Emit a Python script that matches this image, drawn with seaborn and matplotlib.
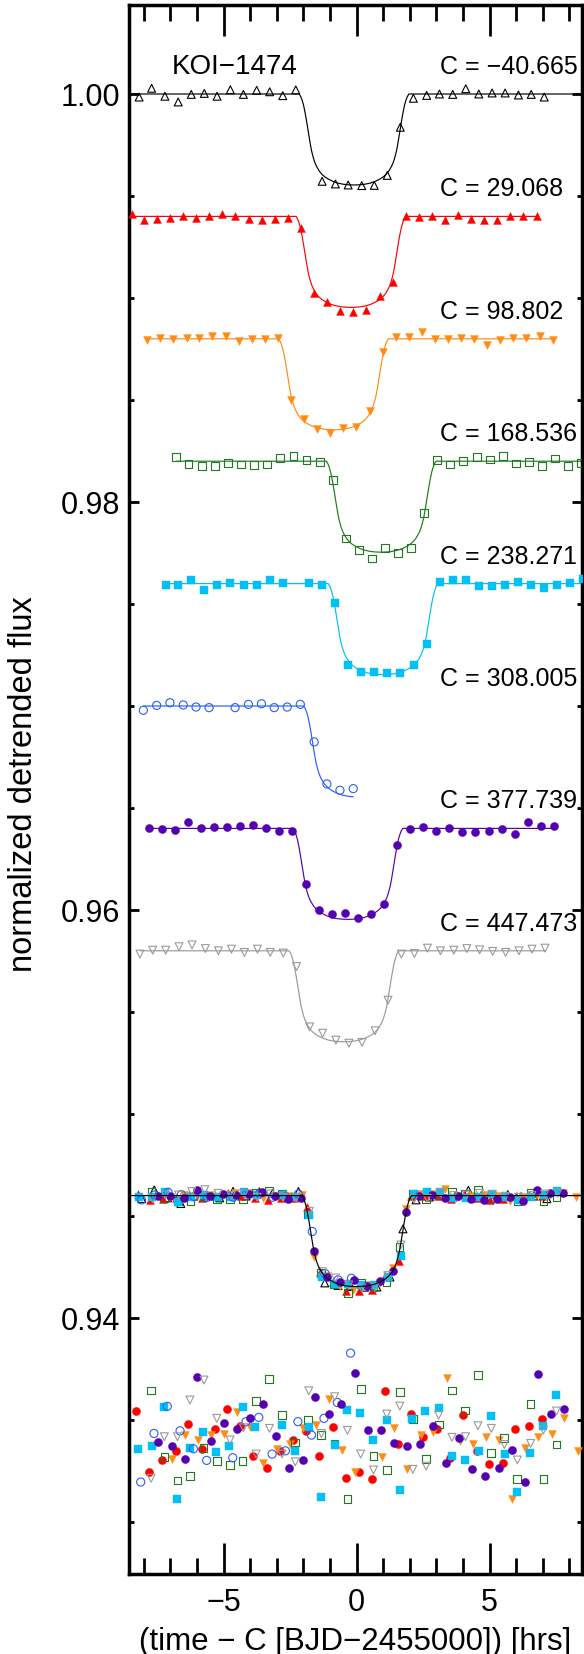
import numpy as np
import matplotlib
matplotlib.use("Agg")
import matplotlib.pyplot as plt
import seaborn as sns
from matplotlib.ticker import MultipleLocator, FormatStrFormatter

# ---------------- data (hours from C, flux deviations in units of 1e-4) ----------------
C_VALUES = [-40.665, 29.068, 98.802, 168.536, 238.271, 308.005, 377.739, 447.473]
BASELINES = [1.000, 0.994, 0.988, 0.982, 0.976, 0.970, 0.964, 0.958]
CENTERS = [-0.10, -0.22, -0.87, 0.92, 0.99, 0.07, -0.33, -0.48]   # fitted mid-transit offsets (hr)
DEPTH = 0.00446
STACK_BASE = 0.946
RESID_BASE = 0.934

T_BLACK = [-8.18, -7.71, -7.21, -6.71, -6.22, -5.73, -5.25, -4.75, -4.26, -3.76, -3.27, -2.78, -2.29,
           -1.30, -0.80, -0.32, 0.19, 0.66, 1.15, 1.64, 2.13, 2.63, 3.11, 3.61, 4.10, 4.59, 5.09, 5.58,
           6.08, 6.56, 7.05]
F_BLACK = [-1.5, 2.8, -1.1, -3.9, -0.2, 0.3, -1.1, 2.1, -0.2, 1.8, 1.1, -0.8, 2.0,
           -42.8, -44.1, -44.6, -44.9, -44.8, -39.9, -16.3, -2.1, -0.7, 0.0, -0.2, 2.6, 0.0, 0.5, 0.5,
           -0.5, -0.2, -1.5]

T_RED = [-8.46, -8.00, -7.51, -7.02, -6.52, -6.03, -5.54, -5.05, -4.56, -4.06, -3.57, -3.08, -2.59,
         -2.09, -1.60, -1.10, -0.62, -0.13, 0.36, 0.86, 1.36, 1.84, 2.33, 2.82, 3.32, 3.81, 4.30, 4.79,
         5.28, 5.78, 6.27, 6.76]
F_RED = [1.0, -2.0, -1.5, -1.0, 0.2, -1.0, 0.0, 1.3, 0.0, -1.3, -2.0, -1.1, -1.0,
         -5.6, -37.6, -42.2, -46.6, -46.7, -46.1, -39.2, -32.2, 0.0, -0.3, 0.0, -1.6, 0.7, -1.3, -2.0,
         -1.6, 0.0, 0.2, 0.0]

T_ORANGE = [-7.87, -7.38, -6.89, -6.39, -5.91, -5.43, -4.92, -4.41, -3.93, -3.45, -2.94, -2.47, -1.98,
            -1.48, -1.00, -0.50, -0.01, 0.49, 0.98, 1.47, 1.95, 2.46, 2.94, 3.43, 3.92, 4.41, 4.91,
            5.39, 5.89, 6.38, 6.88, 7.37]
F_ORANGE = [-0.8, 0.5, 0.0, 0.2, 0.5, 1.5, 1.3, -1.0, -0.3, -0.2, 0.5, -30.2, -39.5,
            -44.4, -46.1, -43.8, -43.0, -35.6, -6.5, 0.8, 0.8, 3.1, 0.0, 0.0, 0.5, 0.0, -2.8,
            -0.5, 0.5, 0.5, 1.5, -0.5]

T_GREEN = [-6.79, -6.32, -5.81, -5.33, -4.84, -4.34, -3.85, -3.36, -2.87, -2.38, -1.89, -1.39, -0.90,
           -0.41, 0.08, 0.58, 1.07, 1.55, 2.04, 2.53, 3.03, 3.52, 4.01, 4.51, 5.00, 5.49, 5.98, 6.48,
           6.97, 7.46, 7.94, 8.43]
F_GREEN = [2.0, -1.3, -2.5, -2.5, -0.8, -1.6, -1.8, -1.6, 1.5, 2.5, 0.7, -0.5, -9.3,
           -37.9, -43.5, -47.7, -42.6, -45.1, -42.6, -25.3, 0.7, -1.6, 0.0, 2.0, 0.8, 2.6, -1.1, -0.5,
           -2.5, 1.3, -2.5, -0.8]

T_CYAN = [-7.18, -6.70, -6.22, -5.73, -5.24, -4.75, -4.24, -3.75, -3.26, -2.77, -1.78, -1.29, -0.80,
          -0.31, 0.18, 0.66, 1.15, 1.64, 2.16, 2.66, 3.15, 3.63, 4.12, 4.61, 5.10, 5.59, 6.08, 6.57,
          7.06, 7.54, 8.03, 8.52]
F_CYAN = [-0.5, -0.5, 1.6, -2.9, -0.5, 0.5, -0.5, -0.5, 1.6, 0.5, 0.5, -0.5, -9.3,
          -40.0, -43.1, -43.1, -43.8, -43.8, -39.7, -29.4, 1.0, 1.6, 1.6, -1.0, -1.0, -0.5, 1.0, -0.5,
          -2.3, -0.5, 0.5, 2.3]

T_BLUE = [-8.02, -7.52, -7.02, -6.52, -6.04, -5.55, -4.57, -4.07, -3.58, -3.10, -2.61, -2.12, -1.60,
          -1.12, -0.63, -0.13]
F_BLUE = [-2.1, 0.3, 1.6, 0.5, -0.5, -0.8, -0.8, 0.8, 1.1, -0.8, -0.5, 0.8, -17.6,
          -38.2, -41.3, -40.5]

T_PURPLE = [-7.81, -7.33, -6.83, -6.34, -5.85, -5.36, -4.87, -4.39, -3.88, -3.40, -2.91, -2.42, -1.92,
            -1.43, -0.94, -0.45, 0.04, 0.54, 1.03, 1.52, 2.01, 2.49, 2.99, 3.48, 3.97, 4.46, 4.96,
            5.45, 5.94, 6.44, 6.92, 7.41]
F_PURPLE = [0.0, -0.3, -1.0, 2.9, 0.0, 0.7, 0.5, 1.0, 1.6, 0.0, -1.5, -1.1, -27.3,
            -40.0, -42.2, -41.5, -44.1, -42.0, -37.1, -8.0, -0.3, 0.5, -1.3, 0.0, -1.6, -2.0, -1.5,
            -0.5, -2.5, 2.9, 1.3, 1.3]

T_GRAY = [-8.15, -7.67, -7.18, -6.68, -6.19, -5.69, -5.20, -4.71, -4.22, -3.73, -3.25, -2.76, -2.26,
          -1.77, -1.28, -0.78, -0.29, 0.20, 0.69, 1.18, 1.68, 2.17, 2.66, 3.15, 3.65, 4.14, 4.62,
          5.11, 5.60, 6.10, 6.59, 7.08]
F_GRAY = [-1.6, 0.3, 0.3, 2.0, 2.9, 1.1, 0.0, 0.8, -0.8, 0.8, -0.8, -1.1, -7.7,
          -37.3, -40.4, -43.8, -45.3, -44.9, -39.2, -24.2, -1.6, -1.3, 1.3, 0.0, 0.3, 1.1, 0.5,
          -0.3, -0.8, 0.0, 0.8, 1.3]

# transit model shape (one half): hours from mid-transit, fraction of depth
MODEL_T = [-2.06, -2.0, -1.95, -1.9, -1.85, -1.8, -1.75, -1.7, -1.65, -1.6, -1.55, -1.5, -1.45, -1.4,
           -1.3, -1.2, -1.1, -1.0, -0.8, -0.6, -0.4, -0.2, 0.0]
MODEL_FRAC = [0.0, 0.03, 0.07, 0.12, 0.19, 0.27, 0.36, 0.45, 0.54, 0.62, 0.68, 0.73, 0.77, 0.80,
              0.85, 0.885, 0.91, 0.93, 0.96, 0.98, 0.992, 0.998, 1.0]

# residuals (stacked time frame, units of 1e-4 about RESID_BASE)
RT_RED = [-8.30, -7.79, -7.33, -6.79, -6.33, -5.83, -5.33, -4.86, -4.39, -3.88, -3.38, -2.88, -2.38,
          -1.90, -1.40, -0.90, -0.41, 0.09, 0.56, 1.07, 1.54, 2.03, 2.51, 3.01, 3.51, 4.01, 4.51,
          4.99, 5.49, 5.96, 6.47, 6.95]
RF_RED = [14.4, -15.5, -9.5, -5.2, 8.0, -4.4, 5.6, 15.5, 7.0, -7.7, -13.4, -5.2, 0.2,
          4.6, -7.7, 6.7, -18.3, -15.5, -19.1, 24.2, -2.0, 12.7, 1.8, 5.4, -8.5, 12.4, -5.2,
          -11.8, -10.9, 5.7, 6.9, 10.3]
RT_ORANGE = [-6.95, -6.45, -5.95, -5.48, -4.97, -4.49, -4.00, -3.51, -3.01, -2.51, -2.03, -1.53, -1.05,
             -0.56, -0.06, 0.94, 1.42, 1.90, 2.41, 2.88, 3.38, 3.88, 4.36, 4.86, 5.36, 5.85, 6.33,
             6.83, 7.33, 7.81, 8.31]
RF_ORANGE = [-9.3, 2.6, 0.2, 2.6, 2.9, 14.1, 6.7, -11.3, -4.1, -2.0, 5.9, 7.5, 20.1,
             -4.7, -15.4, -8.0, 5.9, -14.2, 2.8, 3.9, 30.4, -0.2, -1.8, 1.8, 0.2, -28.9, -3.9,
             1.8, 2.9, 11.1, -5.1]
RT_GREEN = [-7.73, -7.23, -6.74, -6.27, -5.76, -5.26, -4.76, -4.29, -3.78, -3.31, -2.81, -2.31, -1.83,
            -1.33, -0.83, -0.35, 0.15, 0.63, 1.13, 1.62, 2.11, 2.61, 3.10, 3.58, 4.07, 4.56, 5.05,
            5.55, 6.03, 6.53, 7.02, 7.51]
RF_GREEN = [24.5, -8.0, -19.6, -17.5, -3.8, -10.0, -11.9, -10.0, 19.4, 30.2, 12.6, -1.0, 10.0,
            2.5, -1.8, -28.6, 25.3, -7.8, -14.5, 23.9, 10.6, -9.0, 7.8, 24.5, 14.7, 31.9, -6.2,
            1.1, -19.0, 18.0, -18.8, -2.0]
RT_CYAN = [-8.21, -7.71, -7.23, -6.74, -6.27, -5.76, -5.29, -4.79, -4.29, -3.81, -2.81, -2.31, -1.80,
           -1.33, -0.83, -0.35, 0.14, 0.63, 1.13, 1.62, 2.09, 2.58, 3.08, 3.60, 4.09, 4.59, 5.06,
           5.56, 6.04, 6.53, 7.02, 7.51]
RF_CYAN = [-4.4, -2.5, 16.2, -28.8, -3.9, 3.9, -5.9, -2.5, 16.2, 6.4, 7.4, -5.1, 6.7,
           -27.5, -2.1, 15.0, 13.2, 0.2, 9.8, -24.5, 10.6, 14.4, 16.0, -7.8, -9.8, -5.1, 11.8,
           -6.7, -25.5, -6.0, 7.0, 22.5]
RT_BLUE = [-8.12, -7.62, -7.12, -6.64, -6.14, -5.64, -4.66, -4.16, -3.68, -3.18, -2.68, -2.21, -1.70,
           -1.23, -0.73, -0.23]
RF_BLUE = [-20.4, 3.4, 16.7, 4.7, -4.1, -9.8, -8.5, 9.2, 11.3, -6.7, -5.1, 9.2, 2.6,
           10.8, 18.6, 42.8]
RT_PURPLE = [-7.46, -6.95, -6.45, -5.99, -5.49, -4.99, -4.51, -4.01, -3.53, -3.03, -2.53, -2.03, -1.55,
             -1.05, -0.58, -0.08, 0.41, 0.91, 1.39, 1.89, 2.38, 2.86, 3.36, 3.85, 4.35, 4.84, 5.34,
             5.83, 6.32, 6.80, 7.29, 7.79]
RF_PURPLE = [-1.0, -2.8, -9.0, 30.9, -0.3, 8.5, 5.7, 10.8, 18.0, 2.3, -13.4, -9.6, 21.4,
             12.7, 17.6, 33.2, 4.9, 5.2, -1.1, -2.9, -2.0, 7.0, -11.1, 1.3, -14.2, -17.5, -13.4,
             -4.9, -20.4, 32.5, 13.1, 15.4]
RT_GRAY = [-7.73, -7.23, -6.74, -6.27, -5.74, -5.26, -4.76, -4.26, -3.78, -3.28, -2.81, -2.31, -1.80,
           -1.33, -0.83, -0.35, 0.15, 0.63, 1.13, 1.62, 2.11, 2.61, 3.08, 3.58, 4.09, 4.56, 5.06,
           5.55, 6.04, 6.54, 7.02, 7.51]
RF_GRAY = [-18.6, 1.8, 1.8, 19.8, 29.6, 10.8, 0.2, 6.2, -6.7, 5.9, -6.7, -10.5, 24.3,
           3.4, 21.4, 4.9, -6.7, -14.5, 12.9, 16.8, -14.2, -12.6, 12.4, 1.5, 1.8, 7.2, 5.9,
           -2.0, -9.6, -1.5, 5.1, 14.4]

TIMES = [T_BLACK, T_RED, T_ORANGE, T_GREEN, T_CYAN, T_BLUE, T_PURPLE, T_GRAY]
FLUXES = [F_BLACK, F_RED, F_ORANGE, F_GREEN, F_CYAN, F_BLUE, F_PURPLE, F_GRAY]

# ---------------- styles ----------------
COLORS = ["#000000", "#FF0000", "#FF8C14", "#1F7A1F", "#00C0F5", "#2A5CFF", "#5500B0", "#9A9A9A"]
MARKERS = ["^", "^", "v", "s", "s", "o", "o", "v"]
FILLED = [False, True, True, False, True, False, True, False]
RES_SETS = [(RT_RED, RF_RED, "#FF0000", "o", True),
            (RT_ORANGE, RF_ORANGE, "#FF8C14", "v", True),
            (RT_GREEN, RF_GREEN, "#1F7A1F", "s", False),
            (RT_CYAN, RF_CYAN, "#00C0F5", "s", True),
            (RT_BLUE, RF_BLUE, "#2A5CFF", "o", False),
            (RT_PURPLE, RF_PURPLE, "#5500B0", "o", True),
            (RT_GRAY, RF_GRAY, "#9A9A9A", "v", False)]
SIZES = {"^": 32, "v": 32, "o": 34, "s": 31}

XLIM = (-8.56, 8.47)
YLIM = (0.927451, 1.004363)

sns.set_style("ticks")
plt.rcParams["font.family"] = ["Liberation Sans", "DejaVu Sans"]
plt.rcParams.update({"axes.edgecolor": "black", "xtick.color": "black", "ytick.color": "black",
                     "text.color": "black", "axes.labelcolor": "black"})

fig = plt.figure(figsize=(5.84, 16.54), dpi=100)
ax = fig.add_axes([129 / 584, 1 - 1574 / 1654, (582 - 129) / 584, (1574 - 5) / 1654])

half_t = np.array(MODEL_T)
half_f = np.array(MODEL_FRAC)
full_t = np.concatenate([half_t, -half_t[::-1][1:]])
full_f = np.concatenate([half_f, half_f[::-1][1:]])


def model_curve(center, base, t_lo, t_hi):
    tt = center + full_t
    ff = base - DEPTH * full_f
    keep = (tt > t_lo) & (tt <= t_hi + 1e-9)
    tt, ff = list(tt[keep]), list(ff[keep])
    if t_lo < center + full_t[0]:
        tt, ff = [t_lo] + tt, [base] + ff
    if t_hi > center + full_t[-1]:
        tt, ff = tt + [t_hi], ff + [base]
    return np.array(tt), np.array(ff)


def draw_points(x, y, color, marker, filled, z=3):
    sns.scatterplot(x=np.asarray(x), y=np.asarray(y), ax=ax, marker=marker, s=SIZES[marker],
                    color=color, facecolor=(color if filled else "none"), edgecolor=color,
                    linewidth=(0.3 if filled else 0.8), zorder=z, legend=False)


# individual transits
for i in range(8):
    t = np.array(TIMES[i])
    f = BASELINES[i] + np.array(FLUXES[i]) * 1e-4
    lo, hi = (XLIM if i == 0 else (t[0], t[-1]))
    mt, mf = model_curve(CENTERS[i], BASELINES[i], lo, hi)
    sns.lineplot(x=mt, y=mf, ax=ax, color=COLORS[i], linewidth=0.85, sort=False,
                 estimator=None, legend=False, zorder=2)
    draw_points(t, f, COLORS[i], MARKERS[i], FILLED[i])
    label = "C = " + f"{C_VALUES[i]:.3f}".replace("-", "\u2212")
    ax.text(3.13, BASELINES[i] + 0.00098, label, fontsize=18, ha="left", va="baseline")

ax.text(-6.95, 1.0 + 0.00098, "KOI\u22121474", fontsize=20, ha="left", va="baseline")

# stacked (phase-aligned) transits
for i in range(8):
    t = np.array(TIMES[i]) - CENTERS[i]
    f = STACK_BASE + np.array(FLUXES[i]) * 1e-4
    draw_points(t, f, COLORS[i], MARKERS[i], FILLED[i])
mt, mf = model_curve(0.0, STACK_BASE, XLIM[0], XLIM[1])
sns.lineplot(x=mt, y=mf, ax=ax, color="black", linewidth=0.85, sort=False,
             estimator=None, legend=False, zorder=4)

# residuals
for rt, rf, col, mk, fl in RES_SETS:
    draw_points(rt, RESID_BASE + np.array(rf) * 1e-4, col, mk, fl)

ax.set_xlim(*XLIM)
ax.set_ylim(*YLIM)
ax.set_xlabel("")
ax.set_ylabel("")
ax.xaxis.set_major_locator(MultipleLocator(5))
ax.xaxis.set_minor_locator(MultipleLocator(1))
ax.yaxis.set_major_locator(MultipleLocator(0.02))
ax.yaxis.set_minor_locator(MultipleLocator(0.005))
ax.yaxis.set_major_formatter(FormatStrFormatter("%.2f"))
ax.tick_params(which="both", direction="in", top=True, right=True, width=2.0, labelsize=22)
ax.tick_params(axis="x", which="major", length=22, pad=10)
ax.tick_params(axis="x", which="minor", length=11.5)
ax.tick_params(axis="y", which="major", length=7, pad=6.5)
ax.tick_params(axis="y", which="minor", length=3.5)
for sp in ax.spines.values():
    sp.set_linewidth(2.5)
    sp.set_color("black")

fig.text(355.5 / 584, 1 - 1650 / 1654, "(time \u2212 C [BJD\u22122455000]) [hrs]", fontsize=22.5,
         ha="center", va="baseline")
fig.text(24 / 584, 1 - 784.5 / 1654, "normalized detrended flux", fontsize=23.5, rotation=90,
         ha="center", va="center")

fig.savefig("out.png", dpi=100)
